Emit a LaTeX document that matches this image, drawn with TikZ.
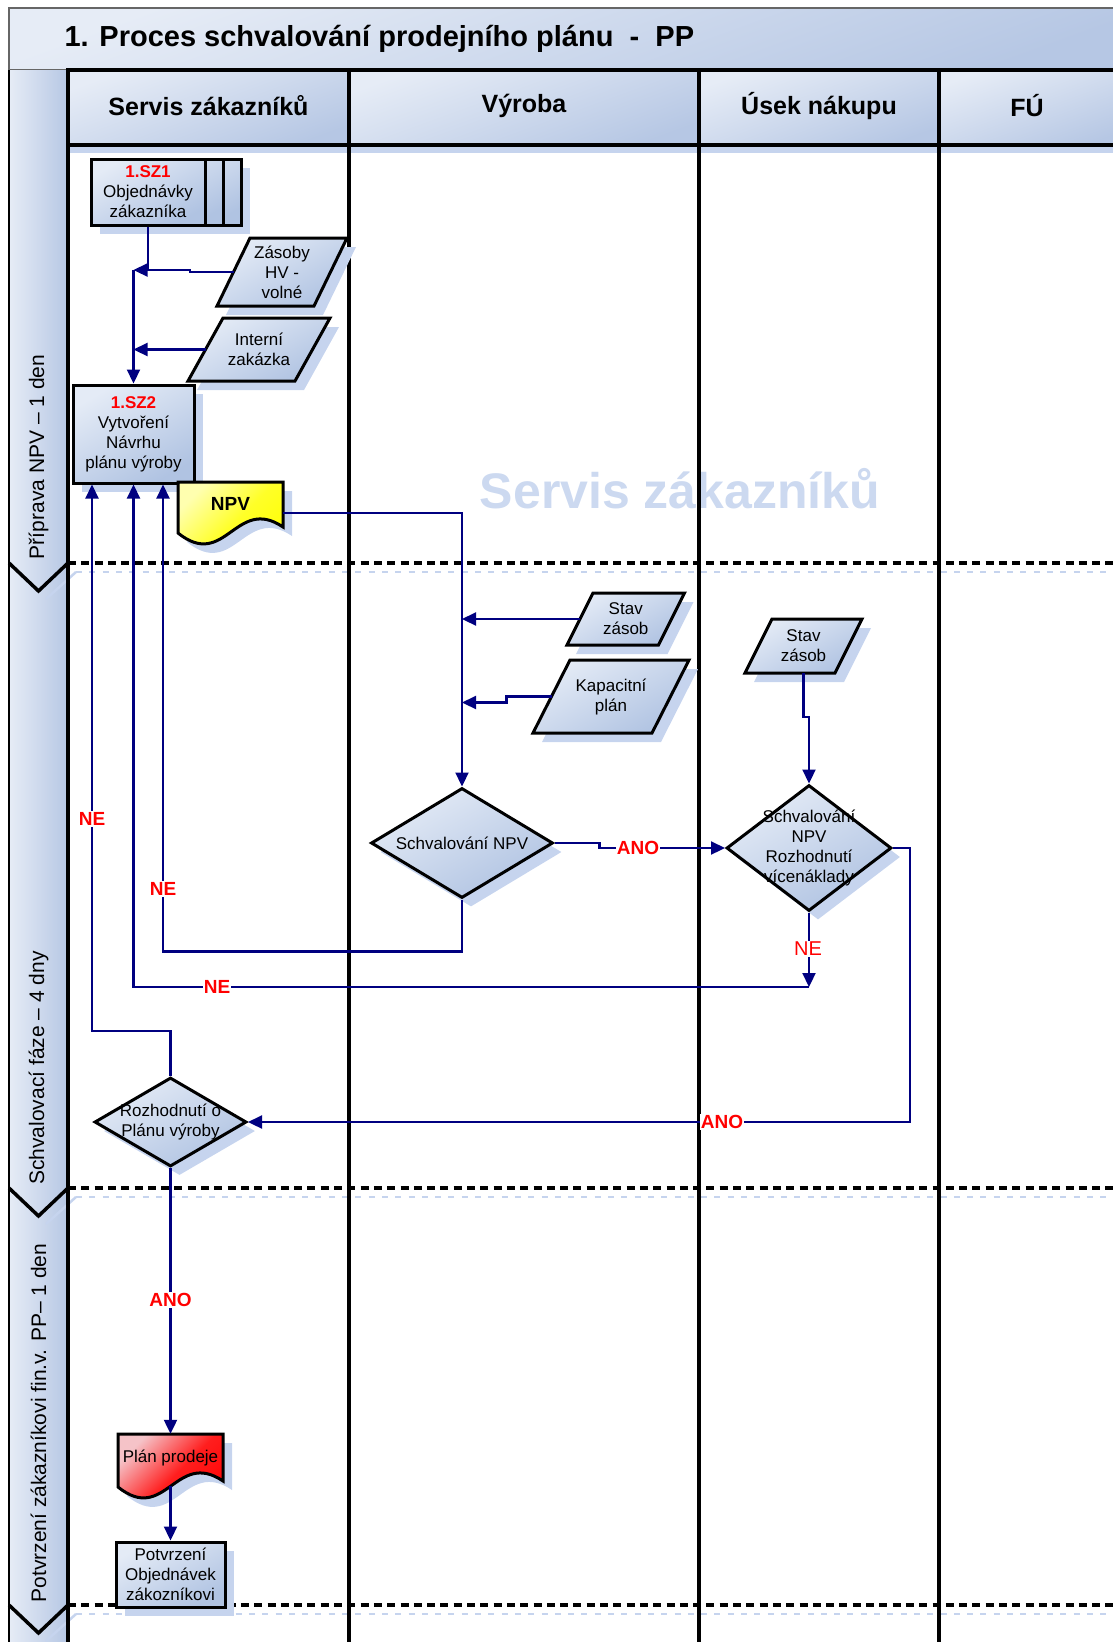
\documentclass[tikz,border=0pt]{standalone}
\usepackage{fontspec}
\setmainfont{Liberation Sans}
\usetikzlibrary{shapes.geometric,arrows.meta,calc,shadows}
\definecolor{nl}{RGB}{228,235,246}
\definecolor{nd}{RGB}{176,195,226}
\definecolor{shc}{RGB}{198,212,238}
\definecolor{navyc}{RGB}{0,0,128}
\definecolor{wmc}{RGB}{204,217,240}
\definecolor{tl}{RGB}{230,236,246}
\definecolor{td}{RGB}{182,199,228}
\definecolor{yl}{RGB}{255,255,175}
\definecolor{ym}{RGB}{255,255,40}
\definecolor{yd}{RGB}{255,255,0}
\definecolor{rl}{RGB}{245,195,200}
\definecolor{rm}{RGB}{255,30,30}
\definecolor{rd}{RGB}{255,0,0}
\tikzset{
 nodebox/.style={draw=black, line width=3pt, top color=nl, bottom color=nd, shading angle=30, inner sep=0pt},
 shadowed/.style={drop shadow={shadow xshift=9pt, shadow yshift=-9pt, fill=shc, opacity=1}},
 txt/.style={align=center, font=\fontsize{17}{20}\selectfont, inner sep=0pt},
 conn/.style={draw=navyc, line width=2.2pt},
 arr/.style={conn, -{Triangle[length=14pt,width=13pt]}},
 lbl/.style={fill=white, inner sep=1pt, text=red, font=\bfseries\fontsize{19}{22}\selectfont},
 lane/.style={draw=black, line width=4pt},
 sepline/.style={draw=black, line width=3.5pt, dash pattern=on 8pt off 5.3pt},
 sepshadow/.style={draw=shc, line width=2pt, dash pattern=on 6pt off 7.3pt},
 phase/.style={rotate=90, font=\fontsize{21}{25}\selectfont},
 head/.style={font=\bfseries\fontsize{25}{29}\selectfont},
 cell/.style={top color=tl, bottom color=td, shading angle=20},
}
\newcommand\mkpara[7]{%
  \path[nodebox, shadowed] ({#2-#4+#6},{#3-#5}) -- ({#2+#4+#6},{#3-#5}) -- ({#2+#4-#6},{#3+#5}) -- ({#2-#4-#6},{#3+#5}) -- cycle;
  \node[txt] (#1) at (#2,#3) {#7};
  \coordinate (#1L) at ({#2-#4},#3);
  \coordinate (#1B) at (#2,{#3+#5});
}
\newcommand\mkdoc[8]{%
  \path[#6, shadowed] (#2,#3) -- (#4,#3) -- (#4,{#5-6}) .. controls ({#2+0.55*(#4-#2)},{#5-38}) and ({#2+0.45*(#4-#2)},{#5+38}) .. (#2,#5) -- cycle;
  \node[minimum width={#4-#2}, minimum height={#5+11-#3}, inner sep=0pt, draw=none] (#1) at ({(#2+#4)/2},{(#3+#5+11)/2}) {};
  \node[txt] (#1t) at ({(#2+#4)/2},#7) {#8};
}
\begin{document}
\begin{tikzpicture}[x=1pt,y=-1pt]
\clip (0,0) rectangle (1113,1642);
\useasboundingbox (0,0) rectangle (1113,1642);
% title band
\path[cell, draw=black!60, line width=1.5pt] (9,8) rectangle (1130,70);
% header cells
\path[cell] (68,70) rectangle (349,145);
\path[cell] (349,70) rectangle (699,145);
\path[cell] (699,70) rectangle (939,145);
\path[cell] (939,70) rectangle (1130,145);
% phase column
\path[left color=tl, right color=td] (9,70) rectangle (68,1650);
% watermark
\node[text=wmc, font=\bfseries\fontsize{50}{60}\selectfont] (wmark) at (680,489) {Servis zákazníků};
% header shadow strip
\fill[shc] (70,147) rectangle (1130,153);
% separators
\foreach \yy in {563,1188,1605}{
  \draw[sepshadow] (76,\yy+9) -- (1130,\yy+9);
  \draw[sepline] (68,\yy) -- (1130,\yy);
  \draw[shc, line width=2.5pt] (46,\yy+36) -- (76,\yy+9);
  \draw[black, line width=3.5pt] (9,\yy) -- (38.5,\yy+28) -- (68,\yy);
}
% lane lines
\draw[black, line width=2.5pt] (9,70) -- (9,1650);
\draw[lane] (68,70) -- (68,1650);
\draw[lane] (349,70) -- (349,1650);
\draw[lane] (699,70) -- (699,1650);
\draw[lane] (939,70) -- (939,1650);
\draw[lane] (66,70) -- (1130,70);
\draw[lane] (66,145) -- (1130,145);
% texts
\node[anchor=west, font=\bfseries\fontsize{29}{35}\selectfont] (title) at (61,39) {1. Proces schvalování prodejního plánu~~-~~PP};
\node[head] (h1) at (208.5,106) {Servis zákazníků};
\node[head] (h2) at (524,106) {Výroba};
\node[head] (h3) at (819,106) {Úsek nákupu};
\node[head] (h4) at (1027,106) {FÚ};
\node[phase] (ph1) at (38.5,457) {Příprava NPV – 1 den};
\node[phase] (ph2) at (38.5,1068) {Schvalovací fáze – 4 dny};
\node[phase] (ph3) at (38.5,1423) {Potvrzení zákazníkovi fin.v. PP– 1 den};
% SZ1 stack
\fill[shc] (100,168) rectangle (250,234);
\path[nodebox] (128,159) rectangle (241,225);
\path[nodebox] (110,159) rectangle (223,225);
\node[nodebox, txt, minimum width=114, minimum height=66] (sz1) at (148,192) {{\color{red}\bfseries 1.SZ1}\\Objednávky\\zákazníka};
% SZ2
\node[nodebox, shadowed, txt, minimum width=121, minimum height=98] (sz2) at (133.5,434) {{\color{red}\bfseries 1.SZ2}\\Vytvoření\\Návrhu\\plánu výroby};
% parallelograms
\mkpara{zas}{282}{272}{48.5}{34}{16.5}{Zásoby\\HV -\\volné}
\mkpara{int}{259}{349.5}{53.5}{31.5}{17.5}{Interní\\zakázka}
\mkpara{sta}{625.75}{619}{45.75}{26}{13}{Stav\\zásob}
\mkpara{kap}{611}{696.5}{59.5}{36.5}{18.5}{Kapacitní\\plán}
\mkpara{stb}{803.5}{646}{45}{27}{13.5}{Stav\\zásob}
% documents
\mkdoc{npv}{178}{482}{283}{533}{draw=black, line width=3pt, top color=yl, bottom color=yd, middle color=ym, shading angle=45}{504}{\bfseries\fontsize{19}{22}\selectfont NPV}
\mkdoc{plan}{118}{1434}{223}{1487}{draw=black, line width=3pt, top color=rl, bottom color=rd, middle color=rm, shading angle=45}{1458}{Plán prodeje}
% diamonds
\node[nodebox, shadowed, diamond, minimum width=182, minimum height=110] (d1) at (462,843) {};
\node[txt] (d1t) at (d1) {Schvalování NPV};
\node[nodebox, shadowed, diamond, minimum width=165, minimum height=126] (d2) at (809,848) {};
\node[txt] (d2t) at (d2) {Schvalování\\NPV\\Rozhodnutí\\vícenáklady};
\node[nodebox, shadowed, diamond, minimum width=152, minimum height=89] (d3) at (170.5,1122) {};
\node[txt] (d3t) at (d3) {Rozhodnutí o\\Plánu výroby};
% Potvrzeni
\node[nodebox, shadowed, txt, minimum width=109, minimum height=65] (potv) at (170.5,1574.5) {Potvrzení\\Objednávek\\zákozníkovi};
% connectors
\coordinate (j1) at (sz2.north |- 0,270);
\draw[conn] (sz1.south) -- (sz1.south |- j1);
\draw[arr] (zasL) -- (190,272) -- (190,270) -- (j1);
\draw[arr] (j1) -- (sz2.north);
\draw[arr] (intL) -- (intL -| j1);
\draw[arr] (npv.east) -| (d1.north);
\draw[arr] (staL) -- (staL -| d1.north);
\draw[arr] (kapL) -- ++(-45,0) -- ++(0,6) -- (d1.north |- 0,702.5);
\draw[arr] (stbB) -- ++(0,44) -| (d2.north);
\draw[arr] (d1.east) -- ++(45,0) -- ++(0,5) -- (d2.west);
\draw[arr] (d1.south) -- ++(0,52) -| ([xshift=29.5pt]sz2.south);
\coordinate (nej) at (d2.south |- 0,987);
\draw[arr] (d2.south) -- (nej);
\draw[arr] (nej) -| (sz2.south);
\draw[arr] (d3.north) -- ++(0,-45) -| ([xshift=-41.5pt]sz2.south);
\draw[arr] (d2.east) -- ++(17,0) |- (d3.east);
\draw[arr] (d3.south) -- (plan.north);
\draw[arr] ([yshift=12pt]plan.south) -- (potv.north);
% labels
\node[lbl] (l1) at (638,848) {ANO};
\node[lbl] (l2) at (163,889) {NE};
\node[lbl, font=\fontsize{20}{24}\selectfont] (l3) at (808,949) {NE};
\node[lbl] (l4) at (217,987) {NE};
\node[lbl] (l5) at (92,819) {NE};
\node[lbl] (l6) at (722,1122) {ANO};
\node[lbl] (l7) at (170.5,1300) {ANO};
\end{tikzpicture}
\end{document}
